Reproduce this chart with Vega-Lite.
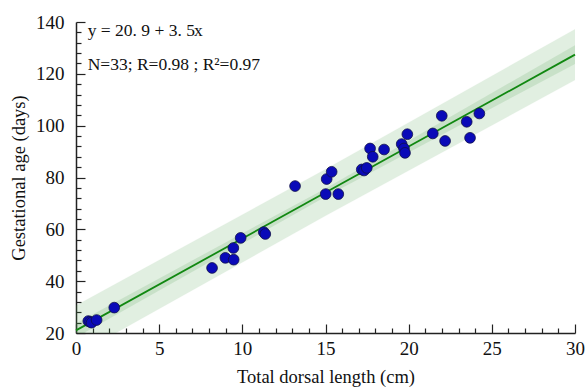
{
  "$schema": "https://vega.github.io/schema/vega-lite/v6.json",
  "width": 499,
  "height": 311,
  "autosize": {"type": "none"},
  "padding": {"left": 76, "top": 22, "right": 10, "bottom": 56},
  "background": "white",
  "config": {
    "view": {"stroke": null},
    "font": "Liberation Serif",
    "axis": {
      "domainColor": "#222222",
      "domainWidth": 1.5,
      "tickColor": "#222222",
      "tickWidth": 1.2,
      "grid": false,
      "labelFont": "Liberation Serif",
      "titleFont": "Liberation Serif",
      "labelColor": "#111111",
      "titleColor": "#111111",
      "labelFontSize": 19,
      "titleFontSize": 18.5,
      "titleFontWeight": "normal"
    }
  },
  "datasets": {
    "pts": [
      {"len": 0.74, "age": 24.6},
      {"len": 0.85, "age": 24.3},
      {"len": 0.94, "age": 24.0},
      {"len": 1.24, "age": 25.0},
      {"len": 2.30, "age": 29.8},
      {"len": 8.18, "age": 45.1},
      {"len": 8.98, "age": 49.0},
      {"len": 9.48, "age": 48.3},
      {"len": 9.46, "age": 52.8},
      {"len": 9.90, "age": 56.7},
      {"len": 11.29, "age": 58.9},
      {"len": 11.38, "age": 58.2},
      {"len": 13.17, "age": 76.7},
      {"len": 15.01, "age": 73.6},
      {"len": 15.77, "age": 73.6},
      {"len": 15.07, "age": 79.4},
      {"len": 15.37, "age": 82.2},
      {"len": 17.18, "age": 83.1},
      {"len": 17.32, "age": 82.7},
      {"len": 17.48, "age": 83.7},
      {"len": 17.68, "age": 91.2},
      {"len": 17.84, "age": 88.0},
      {"len": 18.52, "age": 90.8},
      {"len": 19.58, "age": 92.9},
      {"len": 19.72, "age": 91.2},
      {"len": 19.78, "age": 89.5},
      {"len": 19.92, "age": 96.7},
      {"len": 21.45, "age": 97.0},
      {"len": 21.99, "age": 103.8},
      {"len": 22.19, "age": 94.1},
      {"len": 23.49, "age": 101.5},
      {"len": 23.69, "age": 95.3},
      {"len": 24.25, "age": 104.7}
    ],
    "fit": [
      {"len": 0, "age": 21.0},
      {"len": 30, "age": 127.4}
    ],
    "outer": [
      {"len": 0, "lo": 11.4, "hi": 30.6},
      {"len": 15, "lo": 65.2, "hi": 83.2},
      {"len": 30, "lo": 117.6, "hi": 137.2}
    ],
    "inner": [
      {"len": 0, "lo": 18.3, "hi": 23.7},
      {"len": 15, "lo": 72.6, "hi": 75.8},
      {"len": 30, "lo": 123.8, "hi": 131.0}
    ],
    "notes": [
      {"len": 0.7, "age": 136.4, "label": "y = 20. 9 + 3. 5", "style": "normal"},
      {"len": 7.1, "age": 136.4, "label": "x", "style": "italic"},
      {"len": 0.7, "age": 123.3, "label": "N=33; R=0.98 ; R²=0.97", "style": "normal"}
    ]
  },
  "layer": [
    {
      "data": {"name": "outer"},
      "mark": {"type": "area", "clip": true, "color": "#4a9e4a", "opacity": 0.16, "stroke": "#4a9e4a", "strokeOpacity": 0.15},
      "encoding": {
        "x": {"field": "len", "type": "quantitative", "scale": {"domain": [0, 30], "nice": false, "zero": false}, "axis": null},
        "y": {"field": "lo", "type": "quantitative", "scale": {"domain": [20, 140], "nice": false, "zero": false}, "axis": null},
        "y2": {"field": "hi"}
      }
    },
    {
      "data": {"name": "inner"},
      "mark": {"type": "area", "clip": true, "color": "#4a9e4a", "opacity": 0.16},
      "encoding": {
        "x": {"field": "len", "type": "quantitative", "axis": null},
        "y": {"field": "lo", "type": "quantitative", "axis": null},
        "y2": {"field": "hi"}
      }
    },
    {
      "data": {"name": "fit"},
      "mark": {"type": "line", "color": "#118811", "strokeWidth": 1.8},
      "encoding": {
        "x": {"field": "len", "type": "quantitative", "axis": null},
        "y": {"field": "age", "type": "quantitative", "axis": null}
      }
    },
    {
      "data": {"name": "pts"},
      "mark": {"type": "point", "shape": "circle", "filled": true, "size": 115, "fill": "#0a0ab8", "stroke": "#10104a", "strokeWidth": 0.8, "opacity": 1},
      "encoding": {
        "x": {"field": "len", "type": "quantitative",
          "axis": {"orient": "bottom", "title": "Total dorsal length (cm)", "values": [0, 5, 10, 15, 20, 25, 30], "tickSize": -9, "labelPadding": 15, "titlePadding": 9, "labelFlush": false}},
        "y": {"field": "age", "type": "quantitative",
          "axis": {"orient": "left", "title": "Gestational age (days)", "values": [20, 40, 60, 80, 100, 120, 140], "tickSize": -9, "labelPadding": 21, "titlePadding": 7, "labelFlush": false}}
      }
    },
    {
      "data": {"name": "notes"},
      "mark": {"type": "text", "align": "left", "baseline": "middle", "fontSize": 17.5, "font": "Liberation Serif", "color": "#111111"},
      "encoding": {
        "x": {"field": "len", "type": "quantitative", "axis": null},
        "y": {"field": "age", "type": "quantitative", "axis": null},
        "text": {"field": "label"},
        "fontStyle": {"field": "style", "type": "nominal", "scale": null}
      }
    },
    {
      "data": {"values": [{"len": 0, "age": 20}]},
      "mark": {"type": "point", "opacity": 0},
      "encoding": {
        "x": {"field": "len", "type": "quantitative",
          "axis": {"orient": "bottom", "title": null, "labels": false, "domain": false, "tickSize": -5,
            "values": [1, 2, 3, 4, 6, 7, 8, 9, 11, 12, 13, 14, 16, 17, 18, 19, 21, 22, 23, 24, 26, 27, 28, 29]}},
        "y": {"field": "age", "type": "quantitative",
          "axis": {"orient": "left", "title": null, "labels": false, "domain": false, "tickSize": -5,
            "values": [24, 28, 32, 36, 44, 48, 52, 56, 64, 68, 72, 76, 84, 88, 92, 96, 104, 108, 112, 116, 124, 128, 132, 136]}}
      }
    }
  ],
  "resolve": {"axis": {"x": "independent", "y": "independent"}}
}
